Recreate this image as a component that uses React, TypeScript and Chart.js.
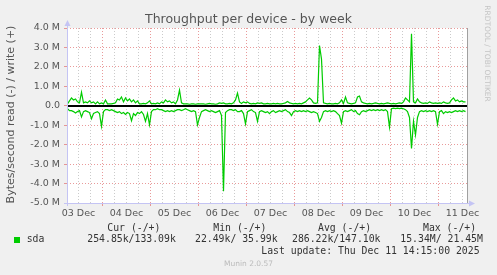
import React, { useEffect, useRef } from 'react';
import { Chart, registerables } from 'chart.js';

Chart.register(...registerables);

// Time axis: hours since 03 Dec 00:00. Window ends at last update (11 Dec 14:15).
const windowStartHour = 6.25;
const windowEndHour = 206.25;
const firstSampleHour = 6.5; // hourly samples
const dayLabels = ['03 Dec', '04 Dec', '05 Dec', '06 Dec', '07 Dec', '08 Dec', '09 Dec', '10 Dec', '11 Dec'];

// write (+) in MB/s, hourly
const writeM = [
  0.1, 0.25, 0.4, 0.3, 0.35, 0.2, 0.15, 0.7, 0.15, 0.2,
  0.15, 0.25, 0.15, 0.2, 0.1, 0.2, 0.1, 0.15, 0.1, 0.3,
  0.1, 0.1, 0.1, 0.12, 0.15, 0.35, 0.3, 0.45, 0.2, 0.4,
  0.25, 0.35, 0.2, 0.3, 0.15, 0.25, 0.1, 0.1, 0.12, 0.1,
  0.15, 0.25, 0.1, 0.12, 0.1, 0.15, 0.1, 0.2, 0.15, 0.3,
  0.2, 0.25, 0.15, 0.2, 0.1, 0.3, 0.8, 0.15, 0.1, 0.1,
  0.1, 0.08, 0.1, 0.1, 0.08, 0.1, 0.1, 0.1, 0.1, 0.08,
  0.1, 0.12, 0.1, 0.1, 0.08, 0.1, 0.15, 0.12, 0.15, 0.1,
  0.1, 0.12, 0.1, 0.15, 0.3, 0.65, 0.2, 0.12, 0.2, 0.15,
  0.2, 0.12, 0.1, 0.12, 0.1, 0.15, 0.12, 0.15, 0.1, 0.1,
  0.12, 0.1, 0.1, 0.12, 0.1, 0.12, 0.1, 0.1, 0.12, 0.15,
  0.22, 0.15, 0.12, 0.1, 0.12, 0.1, 0.12, 0.1, 0.15, 0.2,
  0.3, 0.4, 0.3, 0.15, 0.12, 0.15, 3.1, 2.4, 0.15, 0.12,
  0.1, 0.12, 0.1, 0.1, 0.12, 0.1, 0.15, 0.3, 0.12, 0.45,
  0.15, 0.12, 0.1, 0.12, 0.15, 0.45, 0.5, 0.2, 0.15, 0.12,
  0.1, 0.12, 0.1, 0.12, 0.15, 0.12, 0.1, 0.12, 0.1, 0.12,
  0.15, 0.12, 0.1, 0.12, 0.1, 0.12, 0.15, 0.12, 0.2, 0.4,
  0.3, 0.2, 3.7, 0.2, 0.15, 0.35, 0.2, 0.15, 0.12, 0.15,
  0.12, 0.2, 0.15, 0.12, 0.15, 0.12, 0.15, 0.12, 0.2, 0.15,
  0.12, 0.15, 0.3, 0.4, 0.25, 0.3, 0.2, 0.25, 0.2, 0.2,
];

// read (-) in MB/s, hourly (magnitudes, drawn negative)
const readM = [
  0.15, 0.25, 0.25, 0.3, 0.37, 0.3, 0.25, 0.57, 0.3, 0.25,
  0.3, 0.35, 0.67, 0.4, 0.35, 0.3, 0.4, 1.06, 0.3, 0.2,
  0.2, 0.25, 0.2, 0.25, 0.3, 0.35, 0.3, 0.4, 0.35, 0.45,
  0.35, 0.4, 0.77, 0.4, 0.5, 0.35, 0.4, 0.3, 0.45, 0.8,
  0.4, 0.98, 0.3, 0.2, 0.2, 0.15, 0.2, 0.2, 0.25, 0.3,
  0.25, 0.3, 0.25, 0.3, 0.25, 0.2, 0.2, 0.25, 0.2, 0.15,
  0.2, 0.25, 0.3, 0.25, 0.3, 0.98, 0.6, 0.3, 0.25, 0.2,
  0.25, 0.3, 0.25, 0.3, 0.35, 0.3, 0.25, 0.5, 4.4, 0.35,
  0.25, 0.2, 0.2, 0.25, 0.2, 0.3, 0.3, 0.25, 0.4, 0.93,
  0.3, 0.25, 0.2, 0.3, 0.35, 0.8, 0.3, 0.25, 0.3, 0.35,
  0.3, 0.4, 0.3, 0.25, 0.35, 0.3, 0.25, 0.3, 0.25, 0.2,
  0.3, 0.35, 0.5, 0.3, 0.25, 0.3, 0.25, 0.3, 0.25, 0.3,
  0.25, 0.3, 0.35, 0.3, 0.35, 0.4, 0.8, 0.6, 0.3, 0.25,
  0.3, 0.25, 0.3, 0.25, 0.3, 0.4, 0.5, 0.89, 0.3, 0.25,
  0.3, 0.25, 0.2, 0.3, 0.25, 0.4, 0.46, 0.3, 0.25, 0.3,
  0.25, 0.2, 0.25, 0.2, 0.25, 0.2, 0.25, 0.2, 0.25, 0.2,
  0.3, 1.1, 0.15, 0.12, 0.15, 0.12, 0.15, 0.12, 0.15, 0.2,
  0.3, 0.6, 2.2, 0.8, 1.5, 0.6, 0.3, 0.25, 0.3, 0.25,
  0.3, 0.25, 0.3, 0.25, 0.3, 0.95, 0.3, 0.25, 0.4, 0.3,
  0.35, 0.3, 0.35, 0.3, 0.25, 0.3, 0.25, 0.3, 0.25, 0.3,
];

const yMin = -5e6;
const yMax = 4e6;
const yGridStep = 5e5;
const xGridStepHours = 6;

const titleText = 'Throughput per device - by week';
const yTitle = 'Bytes/second read (-) / write (+)';
const sideText = 'RRDTOOL / TOBI OETIKER';
const seriesName = 'sda';
const legendHeaders = ['Cur (-/+)', 'Min (-/+)', 'Avg (-/+)', 'Max (-/+)'];
const legendValues = ['254.85k/133.09k', '22.49k/ 35.99k', '286.22k/147.10k', '15.34M/ 21.45M'];
const lastUpdate = 'Last update: Thu Dec 11 14:15:00 2025';
const footer = 'Munin 2.0.57';

const GREEN = '#00cc00';
const MAJOR = 'rgba(225, 120, 120, 0.75)';
const MINOR = 'rgba(190, 190, 190, 0.8)';
const AXIS = '#c4c4f4';
const SANS = 'DejaVu Sans';
const MONO = 'DejaVu Sans Mono';

const isMajorY = (v: number) => Math.abs(v / 1e6 - Math.round(v / 1e6)) < 1e-9;
const isMajorX = (h: number) => ((h % 24) + 24) % 24 === 0;

const muninPlugin = {
  id: 'munin',
  beforeDraw(chart: any) {
    const { ctx, chartArea: a } = chart;
    ctx.save();
    ctx.fillStyle = '#f0f0f0';
    ctx.fillRect(0, 0, chart.width, chart.height);
    ctx.fillStyle = '#ffffff';
    ctx.fillRect(a.left, a.top, a.right - a.left, a.bottom - a.top);
    ctx.restore();
  },
  afterDatasetsDraw(chart: any) {
    const { ctx, chartArea: a } = chart;
    const y0 = Math.round(chart.scales.y.getPixelForValue(0));
    ctx.save();
    ctx.strokeStyle = '#000';
    ctx.lineWidth = 2;
    ctx.beginPath();
    ctx.moveTo(a.left, y0);
    ctx.lineTo(a.right, y0);
    ctx.stroke();
    ctx.restore();
  },
  afterDraw(chart: any) {
    const { ctx, chartArea: a } = chart;
    ctx.save();
    // right frame
    ctx.strokeStyle = '#a0a0a0';
    ctx.lineWidth = 1;
    ctx.beginPath();
    ctx.moveTo(a.right + 0.5, a.top);
    ctx.lineTo(a.right + 0.5, a.bottom);
    ctx.stroke();
    // axes
    ctx.strokeStyle = AXIS;
    ctx.beginPath();
    ctx.moveTo(a.left + 0.5, a.bottom + 3);
    ctx.lineTo(a.left + 0.5, a.top - 5);
    ctx.moveTo(a.left - 3, a.bottom + 0.5);
    ctx.lineTo(a.right + 5, a.bottom + 0.5);
    ctx.stroke();
    ctx.fillStyle = AXIS;
    ctx.beginPath();
    ctx.moveTo(a.left + 0.5, a.top - 8);
    ctx.lineTo(a.left - 2.5, a.top - 2);
    ctx.lineTo(a.left + 3.5, a.top - 2);
    ctx.closePath();
    ctx.fill();
    ctx.beginPath();
    ctx.moveTo(a.right + 8, a.bottom + 0.5);
    ctx.lineTo(a.right + 2, a.bottom - 2.5);
    ctx.lineTo(a.right + 2, a.bottom + 3.5);
    ctx.closePath();
    ctx.fill();

    // title
    ctx.fillStyle = '#555';
    ctx.font = `12.5px "${SANS}"`;
    ctx.textAlign = 'center';
    ctx.textBaseline = 'alphabetic';
    ctx.fillText(titleText, chart.width / 2, 22.5);

    // y title
    ctx.save();
    ctx.translate(11, (a.top + a.bottom) / 2 - 1);
    ctx.rotate(-Math.PI / 2);
    ctx.font = `11px "${SANS}"`;
    ctx.textBaseline = 'middle';
    ctx.textAlign = 'center';
    ctx.fillText(yTitle, 0, 0);
    ctx.restore();

    // side text
    ctx.save();
    ctx.translate(487, 53.5);
    ctx.rotate(Math.PI / 2);
    ctx.font = `7.5px "${SANS}"`;
    ctx.fillStyle = '#c4c4c4';
    ctx.textBaseline = 'middle';
    ctx.textAlign = 'center';
    ctx.fillText(sideText, 0, 0);
    ctx.restore();

    // legend
    ctx.font = `9.8px "${MONO}"`;
    ctx.fillStyle = '#333';
    ctx.textAlign = 'left';
    ctx.textBaseline = 'middle';
    const headerX = [107.3, 213.3, 318, 423];
    const valueX = [87.3, 195, 292, 400.3];
    legendHeaders.forEach((t, i) => ctx.fillText(t, headerX[i], 228));
    ctx.fillStyle = GREEN;
    ctx.fillRect(14, 237, 6, 6);
    ctx.fillStyle = '#333';
    ctx.fillText(seriesName, 26.7, 239.5);
    legendValues.forEach((t, i) => ctx.fillText(t, valueX[i], 239.5));
    ctx.fillText(lastUpdate, 261.3, 251.5);

    ctx.font = `7.5px "${SANS}"`;
    ctx.fillStyle = '#bbbbbb';
    ctx.textAlign = 'center';
    ctx.fillText(footer, chart.width / 2, 264);
    ctx.restore();
  },
};

export default function App() {
  const ref = useRef<HTMLCanvasElement | null>(null);

  useEffect(() => {
    if (!ref.current) return;
    const writePts = writeM.map((v, i) => ({ x: firstSampleHour + i, y: v * 1e6 }));
    const readPts = readM.map((v, i) => ({ x: firstSampleHour + i, y: -v * 1e6 }));

    const chart = new Chart(ref.current, {
      type: 'line',
      data: {
        datasets: [
          { label: 'write', data: writePts, borderColor: GREEN, borderWidth: 1.2, pointRadius: 0, tension: 0, fill: false },
          { label: 'read', data: readPts, borderColor: GREEN, borderWidth: 1.2, pointRadius: 0, tension: 0, fill: false },
        ],
      },
      options: {
        responsive: false,
        animation: false,
        devicePixelRatio: 1,
        layout: { padding: { top: 28, right: 30, left: 0, bottom: 0 } },
        plugins: { legend: { display: false }, title: { display: false }, tooltip: { enabled: false } },
        scales: {
          x: {
            type: 'linear',
            min: windowStartHour,
            max: windowEndHour,
            afterBuildTicks: (scale: any) => {
              const ticks = [];
              for (let h = Math.ceil(windowStartHour / xGridStepHours) * xGridStepHours; h < windowEndHour; h += xGridStepHours) ticks.push({ value: h });
              scale.ticks = ticks;
            },
            afterFit: (scale: any) => { scale.height = 72; },
            ticks: {
              autoSkip: false,
              maxRotation: 0,
              minRotation: 0,
              padding: 2,
              color: '#555',
              font: { family: SANS, size: 9.5 },
              callback: (v: any) => {
                const h = Number(v);
                if (((h % 24) + 24) % 24 === 12) return dayLabels[Math.floor(h / 24)] ?? '';
                return '';
              },
            },
            grid: {
              drawTicks: true,
              tickLength: 3,
              color: (c: any) => (isMajorX(c.tick?.value) ? MAJOR : MINOR),
              tickColor: (c: any) => (isMajorX(c.tick?.value) ? MAJOR : 'rgba(0,0,0,0)'),
              lineWidth: 1,
            },
            border: { display: false, dash: [1, 2] },
          },
          y: {
            type: 'linear',
            min: yMin,
            max: yMax,
            afterBuildTicks: (scale: any) => {
              const ticks = [];
              for (let v = yMin; v <= yMax + 1; v += yGridStep) ticks.push({ value: v });
              scale.ticks = ticks;
            },
            afterFit: (scale: any) => { scale.width = 67; },
            ticks: {
              padding: 4,
              color: '#555',
              font: { family: SANS, size: 9.5 },
              callback: (v: any) => {
                const n = Number(v);
                if (!isMajorY(n)) return '';
                if (n === 0) return '0.0';
                return (n / 1e6).toFixed(1) + ' M';
              },
            },
            grid: {
              drawTicks: true,
              tickLength: 3,
              color: (c: any) => {
                const v = c.tick?.value;
                if (v === 0) return 'rgba(0,0,0,0)';
                return isMajorY(v) ? MAJOR : MINOR;
              },
              tickColor: (c: any) => (isMajorY(c.tick?.value) ? MAJOR : 'rgba(0,0,0,0)'),
              lineWidth: 1,
            },
            border: { display: false, dash: [1, 2] },
          },
        },
      } as any,
      plugins: [muninPlugin],
    });
    return () => chart.destroy();
  }, []);

  return (
    <div style={{ position: 'absolute', left: 0, top: 0, width: 497, height: 275 }}>
      <canvas ref={ref} width={497} height={275} style={{ display: 'block', width: 497, height: 275 }} />
    </div>
  );
}
